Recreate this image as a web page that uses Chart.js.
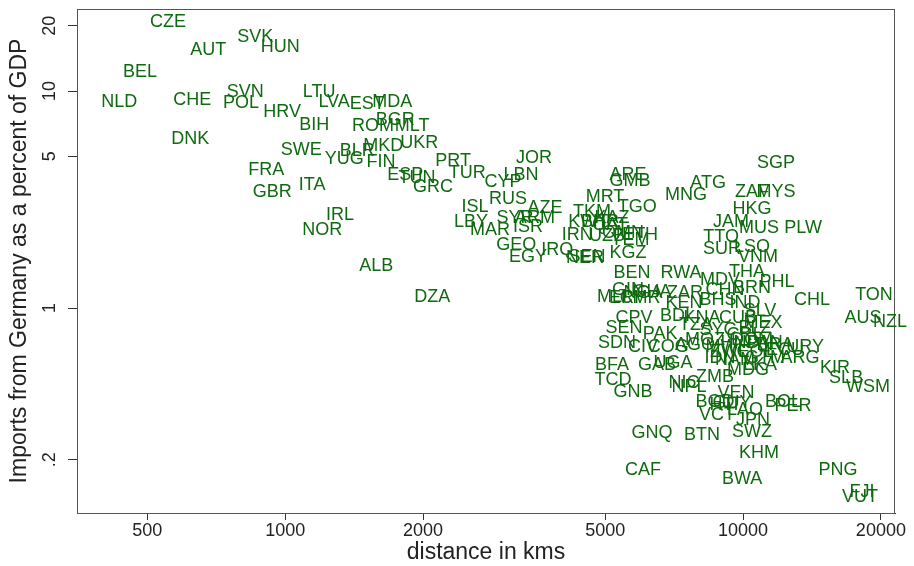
<!DOCTYPE html>
<html>
<head>
<meta charset="utf-8">
<script src="https://cdn.jsdelivr.net/npm/chart.js@4.4.0/dist/chart.umd.min.js"></script>
<style>
  html, body { margin: 0; padding: 0; background: #fff; }
</style>
</head>
<body>
<canvas id="chartScatter" width="914" height="566"></canvas>
<script>
// country labels, distance to Germany (km), imports from Germany (% of GDP)
const countries = [
  "CZE","SVK","HUN","AUT","BEL","NLD","CHE","SVN","POL","HRV",
  "LTU","LVA","EST","MDA","BIH","ROM","BGR","MLT","DNK","SWE",
  "BLR","MKD","UKR","YUG","FIN","FRA","GBR","ITA","PRT","ESP",
  "TUN","TUR","GRC","CYP","LBN","JOR","RUS","ISL","AZE","SYR",
  "ARM","LBY","MAR","ISR","GEO","EGY","IRQ","IRL","NOR","ALB",
  "DZA","IRN","UZB","TKM","KWT","MRT","TGO","ARE","GMB","NER",
  "SEN","KGZ","BEN","ATG","MNG","SGP","ZAF","MYS","HKG","JAM",
  "MUS","PLW","TTO","SUR","LSO","VNM","THA","PHL","MDV","CHN",
  "BRN","RWA","CHL","TON","AUS","NZL","KIR","SLB","WSM","URY",
  "ARG","PNG","FJI","VUT","CAF","BWA","KHM","GNQ","BTN","SWZ",
  "JPN","LAO","VCT","BOL","PER","BGD","HTI","GUY","VEN","NPL",
  "NIC","ZMB","BFA","TCD","GNB","GAB","UGA","KEN","BHS","ZAR",
  "CPV","SEN","PAK","SDN","CIV","BDI","KNA","TZA","SLV","MEX",
  "IND","CUB","SYC","AGO","COG","MOZ","MWI","CRI","HND","DOM",
  "PAN","BRA","ECU","COL","ZWE","MDG","GTM","IDN","LKA","NAM",
  "BLZ","GIN","MLI","ERI","NGA","GHA","CMR","ETH","YEM","OMN",
  "QAT","BHR","KAZ"
];
const distanceKm = [
  555, 860, 975, 679, 482, 434, 627, 818, 801, 985,
  1186, 1279, 1510, 1713, 1157, 1556, 1739, 1894, 620, 1084,
  1436, 1637, 1962, 1345, 1620, 909, 937, 1145, 2327, 1830,
  1940, 2497, 2104, 2992, 3275, 3496, 3068, 2599, 3694, 3178,
  3510, 2545, 2800, 3390, 3195, 3390, 3926, 1318, 1205, 1580,
  2094, 4342, 5047, 4681, 4588, 4995, 5870, 5609, 5666, 4519,
  4560, 5609, 5722, 8386, 7508, 11804, 10463, 11804, 10463, 9414,
  10837, 13524, 8953, 8996, 10463, 10783, 10202, 11864, 8909, 9134,
  10463, 7322, 14150, 19320, 18282, 20941, 15885, 16791, 18746, 13661,
  13321, 16126, 18190, 18010, 6049, 9950, 10837, 6328, 8138, 10463,
  10515, 10101, 8774, 12227, 12859, 8687, 9090, 9462, 9654, 7623,
  7434, 8687, 5176, 5202, 5750, 6489, 7034, 7434, 8820, 7471,
  5781, 5498, 6588, 5308, 6049, 7105, 8138, 7897, 10891, 11055,
  10101, 9752, 8820, 7857, 6861, 8261, 9090, 9950, 9850, 10463,
  11168, 11744, 12350, 10621, 9367, 10254, 11168, 8909, 10891, 9606,
  10621, 5609, 5176, 5498, 6049, 6328, 5959, 5959, 5666, 5470,
  5124, 4873, 5176
];
const importPct = [
  20.8, 17.7, 15.9, 15.5, 12.2, 8.90, 9.09, 9.89, 8.80, 8.00,
  9.89, 8.90, 8.71, 8.90, 6.97, 6.90, 7.35, 6.90, 6.01, 5.35,
  5.29, 5.58, 5.76, 4.86, 4.71, 4.32, 3.42, 3.69, 4.76, 4.10,
  3.97, 4.19, 3.61, 3.81, 4.10, 4.91, 3.18, 2.92, 2.89, 2.60,
  2.60, 2.49, 2.29, 2.36, 1.95, 1.72, 1.85, 2.68, 2.29, 1.56,
  1.12, 2.17, 2.15, 2.77, 2.49, 3.25, 2.92, 4.10, 3.85, 1.70,
  1.72, 1.79, 1.45, 3.77, 3.32, 4.66, 3.42, 3.42, 2.86, 2.49,
  2.34, 2.34, 2.12, 1.87, 1.91, 1.72, 1.47, 1.32, 1.35, 1.21,
  1.24, 1.45, 1.09, 1.15, 0.899, 0.862, 0.529, 0.476, 0.432, 0.661,
  0.588, 0.179, 0.142, 0.135, 0.179, 0.163, 0.215, 0.265, 0.260, 0.268,
  0.305, 0.339, 0.321, 0.369, 0.353, 0.369, 0.357, 0.365, 0.406, 0.432,
  0.451, 0.481, 0.546, 0.466, 0.410, 0.546, 0.558, 1.054, 1.089, 1.17,
  0.899, 0.809, 0.759, 0.690, 0.661, 0.919, 0.899, 0.835, 0.969, 0.853,
  1.054, 0.899, 0.792, 0.675, 0.661, 0.712, 0.661, 0.751, 0.690, 0.712,
  0.690, 0.675, 0.640, 0.627, 0.627, 0.518, 0.588, 0.588, 0.546, 0.576,
  0.809, 1.21, 1.124, 1.11, 1.17, 1.185, 1.11, 2.17, 2.06, 2.22,
  2.41, 2.49, 2.60
];
const xTicks = [500, 1000, 2000, 5000, 10000, 20000];
const yTicks = [0.2, 1, 5, 10, 20];

const fontFamily = '"Liberation Sans", Arial, Helvetica, sans-serif';

// country codes drawn at each point, centred like stata mlabpos(0)
const countryLabels = {
  id: 'countryLabels',
  afterDatasetsDraw(chart) {
    const ctx = chart.ctx;
    const meta = chart.getDatasetMeta(0);
    ctx.save();
    ctx.font = '18px ' + fontFamily;
    ctx.fillStyle = 'rgb(15,105,15)';
    ctx.textAlign = 'center';
    ctx.textBaseline = 'middle';
    meta.data.forEach((pt, i) => {
      ctx.fillText(countries[i], pt.x, pt.y);
    });
    ctx.restore();
  }
};

// plot region outline
const plotBox = {
  id: 'plotBox',
  beforeDatasetsDraw(chart) {
    const { ctx, chartArea: a } = chart;
    ctx.save();
    ctx.strokeStyle = '#555';
    ctx.lineWidth = 1;
    ctx.strokeRect(a.left + 0.5, a.top + 0.5, a.width - 1, a.height);
    ctx.restore();
  }
};

new Chart(document.getElementById('chartScatter'), {
  type: 'scatter',
  data: {
    datasets: [{
      data: distanceKm.map((d, i) => ({ x: d, y: importPct[i] })),
      pointRadius: 0,
      pointHoverRadius: 0
    }]
  },
  options: {
    responsive: false,
    animation: false,
    layout: { padding: { left: 0, right: 19, top: 9, bottom: 0 } },
    plugins: { legend: { display: false }, tooltip: { enabled: false } },
    scales: {
      x: {
        type: 'logarithmic',
        min: 351,
        max: 21470,
        afterBuildTicks: s => { s.ticks = xTicks.map(v => ({ value: v })); },
        afterFit: s => { s.height = 53; s.paddingLeft = 0; s.paddingRight = 0; },
        border: { display: true, color: '#333', width: 1 },
        grid: { display: true, drawOnChartArea: false, drawTicks: true, tickLength: 7, color: '#333' },
        ticks: {
          color: '#222', padding: 0, maxRotation: 0, autoSkip: false,
          font: { size: 18, family: fontFamily },
          callback: v => String(v)
        },
        title: {
          display: true, text: 'distance in kms', color: '#222',
          font: { size: 23, family: fontFamily }, padding: { top: 0, bottom: 0 }
        }
      },
      y: {
        type: 'logarithmic',
        min: 0.1136,
        max: 23.88,
        afterBuildTicks: s => { s.ticks = yTicks.map(v => ({ value: v })); },
        afterFit: s => { s.width = 77; s.paddingTop = 0; s.paddingBottom = 0; },
        border: { display: true, color: '#333', width: 1 },
        grid: { display: true, drawOnChartArea: false, drawTicks: true, tickLength: 9, color: '#333' },
        ticks: {
          color: '#222', padding: 8, minRotation: 90, maxRotation: 90, crossAlign: 'center',
          font: { size: 18, family: fontFamily },
          callback: v => String(v).replace(/^0\./, '.')
        },
        title: {
          display: true, text: 'Imports from Germany as a percent of GDP', color: '#222',
          font: { size: 23, family: fontFamily }, padding: { top: 6, bottom: 0 }
        }
      }
    }
  },
  plugins: [plotBox, countryLabels]
});
</script>
</body>
</html>
